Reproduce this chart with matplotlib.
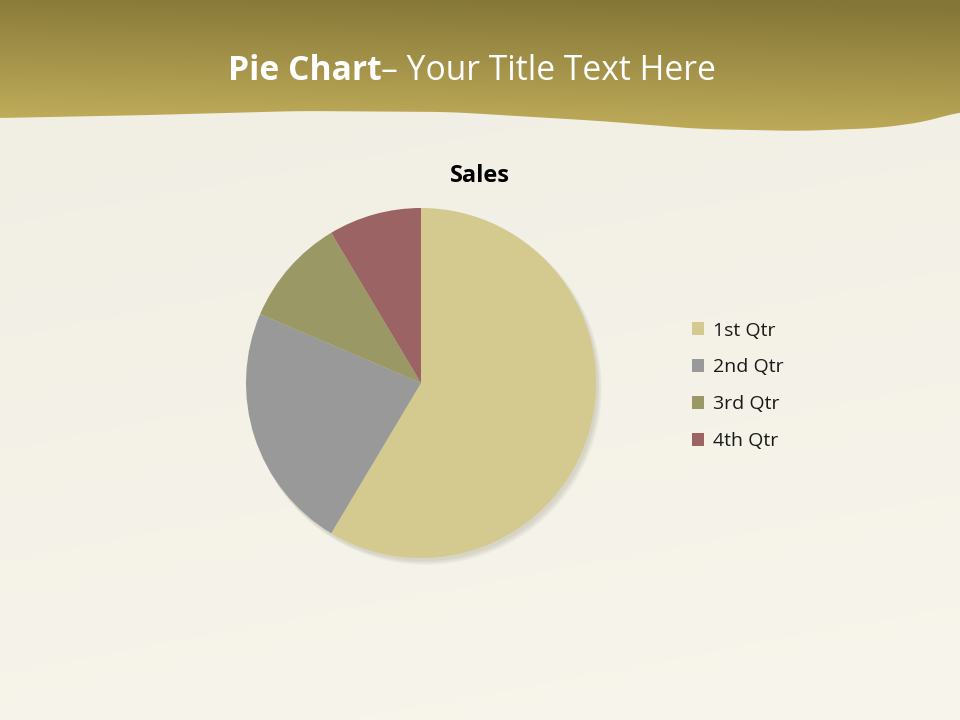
import numpy as np
import matplotlib
matplotlib.use("Agg")
import matplotlib.pyplot as plt
from matplotlib.patches import Polygon, Circle

# ---- data ----
categories = ["1st Qtr", "2nd Qtr", "3rd Qtr", "4th Qtr"]
sales = [8.2, 3.2, 1.4, 1.2]
colors = ["#D4C98E", "#999999", "#9A9966", "#9B6363"]
chart_title = "Sales"
slide_title_bold = "Pie Chart"
slide_title_rest = "– Your Title Text Here"

plt.rcParams['font.family'] = ['Open Sans', 'DejaVu Sans']

W, H = 960, 720
fig = plt.figure(figsize=(9.6, 7.2), dpi=100)
fig.patch.set_facecolor("#F5F3E9")

# background / header axes in pixel coordinates
bg = fig.add_axes([0, 0, 1, 1])
bg.set_xlim(0, W)
bg.set_ylim(H, 0)
bg.axis("off")

# subtle paper background gradient
yy = np.linspace(0, 1, 200)[:, None]
xx = np.linspace(0, 1, 200)[None, :]
c_top = np.array([0xF0, 0xEE, 0xE3]) / 255
c_bot = np.array([0xF8, 0xF6, 0xEC]) / 255
t = (yy * 0.8 + xx * 0.2)
paper = c_top[None, None, :] * (1 - t[..., None]) + c_bot[None, None, :] * t[..., None]
bg.imshow(paper, extent=[0, W, H, 0], aspect="auto", zorder=0)

# header wave
xs = np.linspace(0, W, 240)
wave_x = [0, 150, 300, 450, 600, 700, 800, 880, 930, 960]
wave_y = [118, 115, 111, 112, 121, 129, 131, 128, 121, 111]
ys = np.interp(xs, wave_x, wave_y)
k = np.ones(11) / 11
ys_s = np.convolve(np.pad(ys, 5, mode="edge"), k, mode="valid")
poly_pts = [(0, 0), (W, 0)] + list(zip(xs[::-1], ys_s[::-1]))
header = Polygon(poly_pts, closed=True, facecolor="none", edgecolor="none")
bg.add_patch(header)
gy = np.linspace(0, 1, 150)[:, None]
gx = np.linspace(0, 1, 300)[None, :]
c_light = np.array([0xC4, 0xB0, 0x5C]) / 255
c_dark = np.array([0x84, 0x76, 0x37]) / 255
g = np.clip(0.95 * (1 - gy) + 0.15 * gx - 0.05, 0, 1)
grad = c_light[None, None, :] * (1 - g[..., None]) + c_dark[None, None, :] * g[..., None]
im = bg.imshow(grad, extent=[0, W, 135, 0], aspect="auto", zorder=1)
im.set_clip_path(header)

# slide title
tb = bg.text(0, 0, slide_title_bold, fontsize=24.2, fontweight="bold", color="white",
             va="baseline", ha="left", zorder=3)
tr = bg.text(0, 0, slide_title_rest, fontsize=24.2, color="white", va="baseline", ha="left", zorder=3)
fig.canvas.draw()
r = fig.canvas.get_renderer()
wb = tb.get_window_extent(r).width
wr = tr.get_window_extent(r).width
x0 = 472 - (wb + wr) / 2
tb.set_position((x0, 80))
tr.set_position((x0 + wb, 80))

# chart title
bg.text(480, 182, chart_title, fontsize=17, fontweight="bold", color="black",
        ha="center", va="baseline", zorder=3)

# pie
cx, cy, R = 421, 383, 175
pax = fig.add_axes([0, 0, 1, 1])
pax.set_zorder(2)
pax.patch.set_alpha(0)
# soft shadow
for i in range(4):
    pax.add_patch(Circle((0.012 + 0.004 * i, -0.018 - 0.004 * i), 1.0 + 0.003 * i,
                         facecolor="#4a4228", alpha=0.045, edgecolor="none", zorder=0))
wedges, _ = pax.pie(sales, colors=colors, startangle=90, counterclock=False,
                    radius=1.0, wedgeprops=dict(edgecolor="none", zorder=2))
pax.set_xlim(-1.05, 1.05)
pax.set_ylim(-1.05, 1.05)
pax.set_aspect("equal")
pax.axis("off")
pax.set_position([(cx - R * 1.05) / W, (H - cy - R * 1.05) / H, 2.1 * R / W, 2.1 * R / H])

leg = fig.legend(wedges, categories, loc="upper left",
                 bbox_to_anchor=(674 / W, 1 - 304 / H), frameon=False,
                 fontsize=14, handlelength=0.65, handleheight=0.65,
                 handletextpad=0.46, labelspacing=0.97, labelcolor="#1a1a1a")

fig.savefig("out.png", dpi=100, facecolor=fig.get_facecolor())
